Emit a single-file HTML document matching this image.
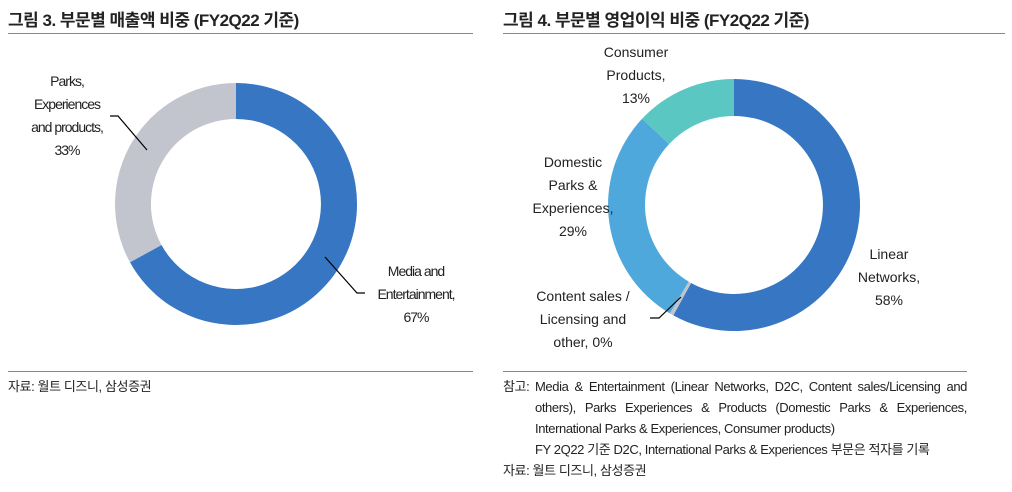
<!DOCTYPE html>
<html><head><meta charset="utf-8"><style>
body{margin:0;background:#fff;width:1012px;height:492px;overflow:hidden;position:relative;font-family:"Liberation Sans","Noto Sans CJK KR",sans-serif;color:#222}
.t{position:absolute;font-size:17px;font-weight:bold;top:6px;letter-spacing:-0.5px}
.hr{position:absolute;height:1px;background:#888}
.lb{position:absolute;text-align:center;font-size:14px;line-height:23px;color:#222}
.n{position:absolute;font-size:13px;line-height:21px;letter-spacing:-0.4px}
</style></head><body>
<div class="t" style="left:8px">그림 3. 부문별 매출액 비중 (FY2Q22 기준)</div>
<div class="t" style="left:503px">그림 4. 부문별 영업이익 비중 (FY2Q22 기준)</div>
<div class="hr" style="left:8px;top:33px;width:465px"></div>
<div class="hr" style="left:503px;top:33px;width:502px"></div>
<div class="hr" style="left:8px;top:371px;width:465px"></div>
<div class="hr" style="left:503px;top:371px;width:464px"></div>
<svg width="1012" height="492" style="position:absolute;left:0;top:0">
<path d="M236,83 A121 121 0 1 1 130.0,262.3 L161.5,245.0 A85 85 0 1 0 236,119 Z" fill="#3676c3"/>
<path d="M130.0,262.3 A121 121 0 0 1 236,83 L236,119 A85 85 0 0 0 161.5,245.0 Z" fill="#c3c5ce"/>
<path d="M734,79 A126 126 0 1 1 673.3,315.4 L691.1,283.0 A89 89 0 1 0 734,116 Z" fill="#3676c3"/>
<path d="M673.3,315.4 A126 126 0 0 1 669.9,313.4 L688.7,281.6 A89 89 0 0 0 691.1,283.0 Z" fill="#c0c4cc"/>
<path d="M669.9,313.4 A126 126 0 0 1 642.1,118.8 L669.1,144.1 A89 89 0 0 0 688.7,281.6 Z" fill="#4ea8db"/>
<path d="M642.1,118.8 A126 126 0 0 1 734,79 L734,116 A89 89 0 0 0 669.1,144.1 Z" fill="#5bc7c3"/>
<polyline points="110,116 118,116 147,150" fill="none" stroke="#000" stroke-width="1.2"/>
<polyline points="325,257 357,293 365,293" fill="none" stroke="#000" stroke-width="1.2"/>
<polyline points="650,318 659,318 681,297" fill="none" stroke="#000" stroke-width="1.2"/>
</svg>
<div class="lb" style="left:17px;top:70px;width:100px;letter-spacing:-1px">Parks,<br>Experiences<br>and products,<br>33%</div>
<div class="lb" style="left:356px;top:260px;width:120px;letter-spacing:-1px">Media and<br>Entertainment,<br>67%</div>
<div class="lb" style="left:576px;top:41px;width:120px">Consumer<br>Products,<br>13%</div>
<div class="lb" style="left:513px;top:151px;width:120px">Domestic<br>Parks &amp;<br>Experiences,<br>29%</div>
<div class="lb" style="left:829px;top:243px;width:120px">Linear<br>Networks,<br>58%</div>
<div class="lb" style="left:523px;top:285px;width:120px">Content sales /<br>Licensing and<br>other, 0%</div>
<div class="n" style="left:8px;top:376px">자료: 월트 디즈니, 삼성증권</div>
<div class="n" style="left:503px;top:376px">참고:</div>
<div class="n" style="left:535px;top:376px;width:432px;text-align:justify;text-align-last:left">Media &amp; Entertainment (Linear Networks, D2C, Content sales/Licensing and others), Parks Experiences &amp; Products (Domestic Parks &amp; Experiences, International Parks &amp; Experiences, Consumer products)<br>FY 2Q22 기준 D2C, International Parks &amp; Experiences 부문은 적자를 기록</div>
<div class="n" style="left:503px;top:460px">자료: 월트 디즈니, 삼성증권</div>
</body></html>
